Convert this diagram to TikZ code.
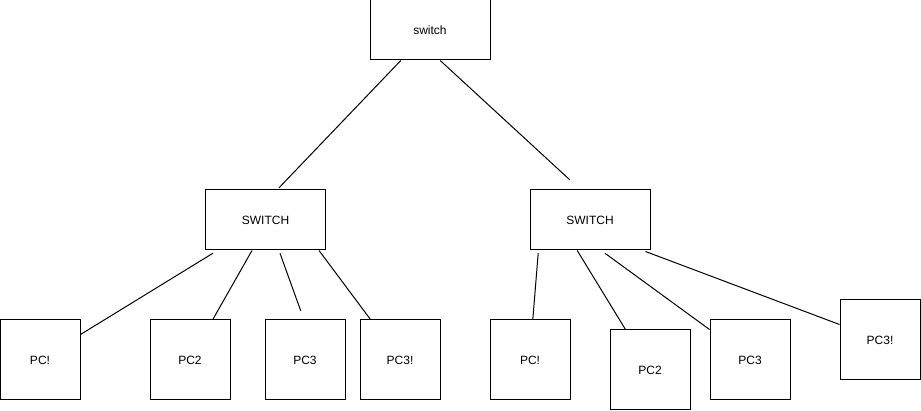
\documentclass[tikz,border=0pt]{standalone}
\usepackage{fontspec}
\setmainfont{Liberation Sans}
\tikzset{
    box/.style={draw, line width=1pt, inner sep=0pt, font=\fontsize{12}{14}\selectfont},
    sw/.style={box, minimum width=120pt, minimum height=60pt},
    pc/.style={box, minimum width=80pt, minimum height=80pt}
}

\begin{document}
\begin{tikzpicture}[x=1pt, y=-1pt, line width=1pt]
    \useasboundingbox (0,0) rectangle (921,411);

    \node [sw] (top) at (430,30) {switch};
    \node [sw] (swL) at (265.5,220) {SWITCH};
    \node [sw] (swR) at (590,220) {SWITCH};

    \node [pc] (pcL1) at (40,360) {PC!};
    \node [pc] (pcL2) at (190,360) {PC2};
    \node [pc] (pcL3) at (305,360) {PC3};
    \node [pc] (pcL4) at (400,360) {PC3!};
    \node [pc] (pcR1) at (530,360) {PC!};
    \node [pc] (pcR2) at (650,370) {PC2};
    \node [pc] (pcR3) at (750,360) {PC3};
    \node [pc] (pcR4) at (880,340) {PC3!};

    \coordinate (swRtop) at (570,180);
    \coordinate (swLmid) at (280,253.3);
    \coordinate (pcL3top) at (300.7,310.7);
    \coordinate (swRmid) at (605,253.3);

    \draw ([xshift=31.3pt]top.south west) -- ([xshift=74pt,yshift=1.7pt]swL.north west);
    \draw ([xshift=70.7pt]top.south west) -- (swRtop);

    \draw ([xshift=8pt,yshift=-2.7pt]swL.south west) -- ([yshift=-15pt]pcL1.north east);
    \draw ([xshift=47pt]swL.south west) -- ([xshift=63.3pt]pcL2.north west);
    \draw (swLmid) -- (pcL3top);
    \draw ([xshift=114pt]swL.south west) -- ([xshift=11pt]pcL4.north west);

    \draw ([xshift=8.7pt,yshift=-2.7pt]swR.south west) -- ([xshift=43.3pt]pcR1.north west);
    \draw ([xshift=47.7pt]swR.south west) -- ([xshift=16pt]pcR2.north west);
    \draw (swRmid) -- ([yshift=-10pt]pcR3.north west);
    \draw ([xshift=-5pt,yshift=-1pt]swR.south east) -- ([yshift=-25pt]pcR4.north west);

\end{tikzpicture}
\end{document}
